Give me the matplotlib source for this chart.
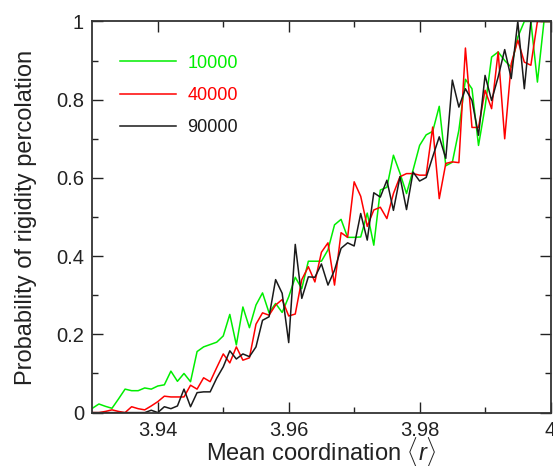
import numpy as np
import matplotlib

matplotlib.use("Agg")
import matplotlib.pyplot as plt
from matplotlib.ticker import FixedLocator, FuncFormatter

# mean coordination <r>, step 0.001
r_values = np.round(np.arange(3.930, 4.0005, 0.001), 3)

# probability of rigidity percolation
p_10000 = [
    0.011, 0.022, 0.016, 0.011, 0.035, 0.060, 0.056, 0.056, 0.063, 0.060,
    0.068, 0.071, 0.106, 0.080, 0.100, 0.079, 0.156, 0.168, 0.174, 0.180,
    0.196, 0.251, 0.173, 0.270, 0.217, 0.275, 0.306, 0.255, 0.279, 0.256,
    0.296, 0.346, 0.317, 0.387, 0.387, 0.387, 0.416, 0.480, 0.494, 0.448,
    0.448, 0.449, 0.510, 0.428, 0.569, 0.576, 0.658, 0.612, 0.560, 0.620,
    0.683, 0.710, 0.719, 0.783, 0.631, 0.640, 0.722, 0.852, 0.828, 0.683,
    0.781, 0.909, 0.922, 0.900, 0.883, 0.960, 1.000, 1.000, 0.845, 1.000,
    1.000,
]
p_40000 = [
    0.000, 0.000, 0.003, 0.007, 0.003, 0.000, 0.015, 0.010, 0.007, 0.017,
    0.028, 0.042, 0.040, 0.040, 0.040, 0.070, 0.060, 0.089, 0.079, 0.115,
    0.150, 0.127, 0.168, 0.134, 0.140, 0.226, 0.255, 0.249, 0.275, 0.289,
    0.247, 0.252, 0.340, 0.373, 0.334, 0.410, 0.434, 0.326, 0.460, 0.448,
    0.590, 0.553, 0.476, 0.518, 0.525, 0.496, 0.560, 0.603, 0.611, 0.611,
    0.607, 0.607, 0.730, 0.547, 0.637, 0.641, 0.639, 0.932, 0.729, 0.729,
    0.824, 0.777, 0.922, 0.700, 0.892, 0.952, 0.896, 0.888, 1.000, 1.000,
    1.000,
]
p_90000 = [
    0.000, 0.000, 0.000, 0.000, 0.000, 0.000, 0.000, 0.000, 0.000, 0.006,
    0.000, 0.015, 0.010, 0.017, 0.060, 0.015, 0.051, 0.053, 0.053, 0.088,
    0.117, 0.158, 0.137, 0.150, 0.143, 0.168, 0.236, 0.245, 0.340, 0.305,
    0.179, 0.430, 0.292, 0.347, 0.346, 0.380, 0.326, 0.364, 0.420, 0.434,
    0.426, 0.509, 0.441, 0.562, 0.551, 0.594, 0.517, 0.603, 0.519, 0.615,
    0.592, 0.601, 0.654, 0.705, 0.650, 0.850, 0.781, 0.828, 0.798, 0.709,
    0.862, 0.798, 0.858, 0.928, 0.854, 1.000, 0.828, 1.000, 1.000, 1.000,
    1.000,
]

series = [
    ("10000", p_10000, "#00ee00"),
    ("40000", p_40000, "#ff0000"),
    ("90000", p_90000, "#1a1a1a"),
]

plt.rcParams["font.family"] = ["Liberation Sans", "DejaVu Sans"]
plt.rcParams["mathtext.fontset"] = "custom"
plt.rcParams["mathtext.rm"] = "Liberation Sans"
plt.rcParams["mathtext.it"] = "Liberation Sans:italic"

fig = plt.figure(figsize=(5.53, 4.66), dpi=100)
ax = fig.add_axes([0.167, 0.1146, 0.8285, 0.8394])

for label, values, color in series:
    ax.plot(r_values, values, color=color, linewidth=1.1, label=label)

ax.set_xlim(3.93, 4.0)
ax.set_ylim(0, 1)

ax.xaxis.set_major_locator(FixedLocator([3.94, 3.96, 3.98, 4.0]))
ax.xaxis.set_minor_locator(FixedLocator([3.95, 3.97, 3.99]))
ax.yaxis.set_major_locator(FixedLocator([0, 0.2, 0.4, 0.6, 0.8, 1.0]))
ax.yaxis.set_minor_locator(FixedLocator([0.1, 0.3, 0.5, 0.7, 0.9]))
ax.xaxis.set_major_formatter(FuncFormatter(lambda v, _: f"{v:g}"))
ax.yaxis.set_major_formatter(FuncFormatter(lambda v, _: f"{v:g}"))

ax.tick_params(which="both", direction="in", top=True, right=True,
               width=1.0, colors="#222222", labelsize=14.5, pad=6)
ax.tick_params(which="major", length=8)
ax.tick_params(which="minor", length=4)
for spine in ax.spines.values():
    spine.set_linewidth(1.3)
    spine.set_color("#333333")

ax.set_xlabel(r"Mean coordination $\langle r\rangle$", fontsize=17, color="#222222")
ax.set_ylabel("Probability of rigidity percolation", fontsize=17, color="#222222")
ax.xaxis.set_label_coords(0.5, -0.057)
ax.yaxis.set_label_coords(-0.12, 0.5)

leg = ax.legend(loc="upper left", bbox_to_anchor=(0.06, 0.915), frameon=False,
                fontsize=13, handlelength=3.1, handletextpad=0.65,
                labelspacing=0.85, borderpad=0, borderaxespad=0,
                labelcolor="linecolor")

fig.savefig("out.png", dpi=100)
